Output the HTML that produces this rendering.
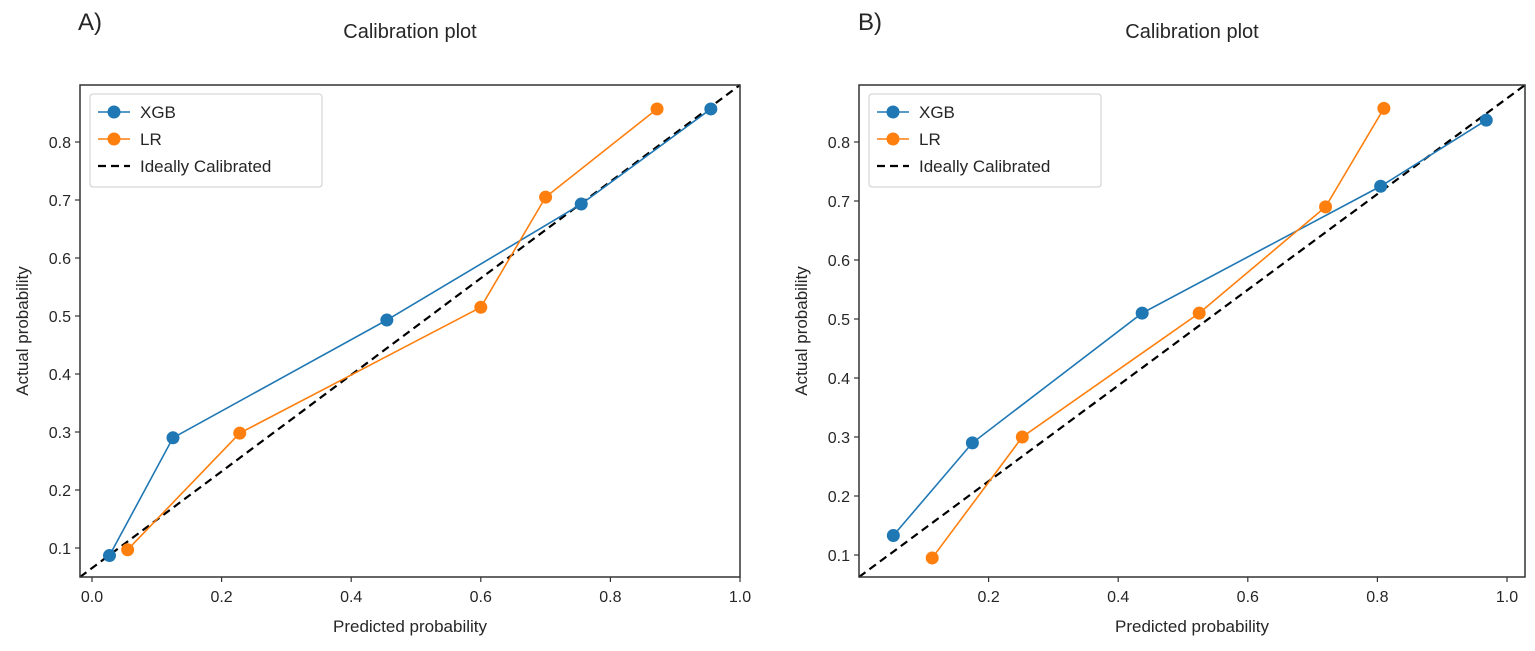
<!DOCTYPE html>
<html><head><meta charset="utf-8"><style>
body{margin:0;background:#fff;width:1535px;height:646px;overflow:hidden}
svg text{font-family:"Liberation Sans",sans-serif;fill:#262626}
</style></head><body>
<svg id="svg" width="1535" height="646"></svg>
<script>
const xgbA_x=[0.027,0.125,0.455,0.755,0.955];
const xgbA_y=[0.087,0.29,0.493,0.693,0.857];
const lrA_x=[0.055,0.228,0.6,0.7,0.872];
const lrA_y=[0.097,0.298,0.515,0.705,0.857];
const xgbB_x=[0.053,0.175,0.437,0.805,0.968];
const xgbB_y=[0.133,0.29,0.51,0.725,0.837];
const lrB_x=[0.113,0.252,0.525,0.72,0.81];
const lrB_y=[0.095,0.3,0.51,0.69,0.857];
const xticksA=["0.0","0.2","0.4","0.6","0.8","1.0"];
const xticksB=["0.2","0.4","0.6","0.8","1.0"];
const yticks=["0.1","0.2","0.3","0.4","0.5","0.6","0.7","0.8"];
const legendLabels=["XGB","LR","Ideally Calibrated"];
const NS="http://www.w3.org/2000/svg";
const svg=document.getElementById('svg');
function el(t,a,p){const e=document.createElementNS(NS,t);for(const k in a)e.setAttribute(k,a[k]);(p||svg).appendChild(e);return e;}
function panel(P){
  const g=el('g',{});
  
  
  const sx=v=>P.x0+(v-P.xmin)/(P.xmax-P.xmin)*(P.x1-P.x0);
  const sy=v=>P.y1-(v-P.ymin)/(P.ymax-P.ymin)*(P.y1-P.y0);
  let t=el('text',{x:P.lx,y:30,'font-size':24},g);t.textContent=P.id+')';
  
  t=el('text',{x:(P.x0+P.x1)/2,y:38,'font-size':20,'text-anchor':'middle'},g);t.textContent='Calibration plot';
  
  P.xt.forEach(s=>{const v=parseFloat(s),x=sx(v);
    el('line',{x1:x,x2:x,y1:P.y1,y2:P.y1+5,stroke:'#333','stroke-width':1.2},g);
    const tt=el('text',{x:x,y:P.y1+25,'font-size':16,'text-anchor':'middle'},g);tt.textContent=s;
    });
  yticks.forEach(s=>{const v=parseFloat(s),y=sy(v);
    el('line',{x1:P.x0-5,x2:P.x0,y1:y,y2:y,stroke:'#333','stroke-width':1.2},g);
    const tt=el('text',{x:P.x0-9,y:y+6,'font-size':16,'text-anchor':'end'},g);tt.textContent=s;
    });
  t=el('text',{x:(P.x0+P.x1)/2,y:P.y1+55,'font-size':17,'text-anchor':'middle'},g);t.textContent='Predicted probability';
  
  t=el('text',{x:0,y:0,'font-size':17,'text-anchor':'middle',transform:`translate(${P.x0-52},${(P.y0+P.y1)/2}) rotate(-90)`},g);t.textContent='Actual probability';
  
  const d=el('line',{x1:P.x0,y1:P.y1,x2:P.x1,y2:P.y0,stroke:'#000','stroke-width':2.2,'stroke-dasharray':'8,5'},g);
  
  [[P.xgbx,P.xgby,'#1f77b4','xgb'],[P.lrx,P.lry,'#ff7f0e','lr']].forEach(([xs,ys,c,n])=>{
    const pts=xs.map((v,i)=>sx(v)+','+sy(ys[i])).join(' ');
    const pl=el('polyline',{points:pts,fill:'none',stroke:c,'stroke-width':1.6},g);
    
    xs.forEach((v,i)=>{const ci=el('circle',{cx:sx(v),cy:sy(ys[i]),r:6.5,fill:c},g);
      });
  });
  el('rect',{x:P.x0,y:P.y0,width:P.x1-P.x0,height:P.y1-P.y0,fill:'none',stroke:'#333','stroke-width':1.5},g);
  const lg=el('g',{},g);
  
  const lx=P.x0+10;
  el('rect',{x:lx,y:94,width:232,height:93,fill:'#fff',stroke:'#ccc',rx:3},lg);
  const cols=['#1f77b4','#ff7f0e','#000'];
  legendLabels.forEach((s,i)=>{const y=112+i*27;
    const e=el('g',{},lg);
    
    if(i<2){el('line',{x1:lx+8,x2:lx+40,y1:y,y2:y,stroke:cols[i],'stroke-width':1.6},e);el('circle',{cx:lx+24,cy:y,r:6.5,fill:cols[i]},e);}
    else el('line',{x1:lx+8,x2:lx+40,y1:y,y2:y,stroke:'#000','stroke-width':2.2,'stroke-dasharray':'8,5'},e);
    const tt=el('text',{x:lx+50,y:y+6,'font-size':17},e);tt.textContent=s;});
}
panel({id:'A',lx:78,x0:80,x1:740,y0:85,y1:577,xmin:-0.0185,xmax:1.0,ymin:0.1-(577-548)/580,ymax:0.1+(548-85)/580,
  xt:xticksA,xgbx:xgbA_x,xgby:xgbA_y,lrx:lrA_x,lry:lrA_y});
panel({id:'B',lx:858,x0:859,x1:1525,y0:85,y1:577,xmin:0,xmax:(1525-859)/648,ymin:0.1-(577-555)/590,ymax:0.1+(555-85)/590,
  xt:xticksB,xgbx:xgbB_x,xgby:xgbB_y,lrx:lrB_x,lry:lrB_y});
</script>
</body></html>
